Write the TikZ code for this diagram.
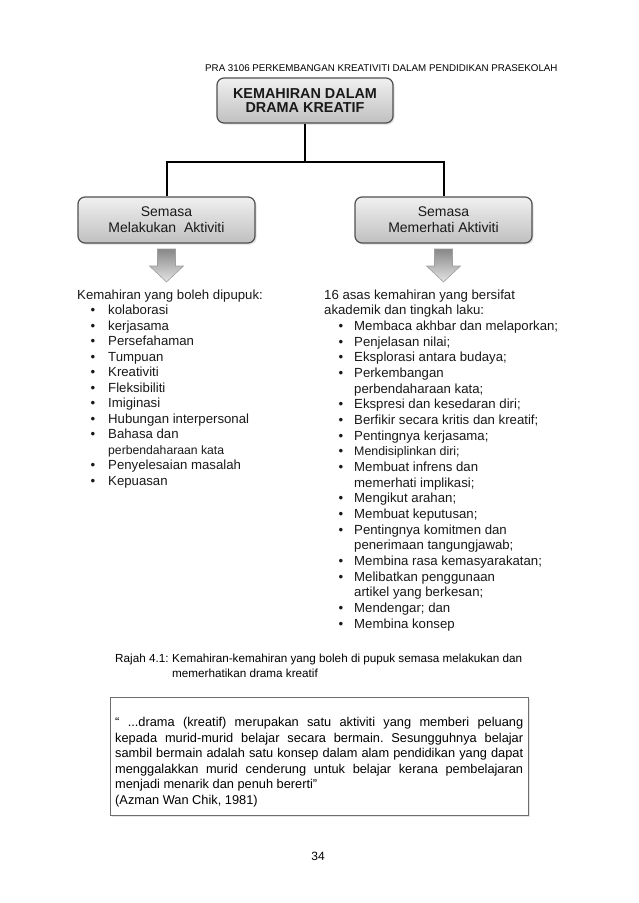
\documentclass[tikz,border=0pt]{standalone}
\usepackage{fontspec}
\setmainfont{Liberation Sans}
\usetikzlibrary{positioning,calc,shadows}
\definecolor{boxline}{RGB}{80,80,80}
\definecolor{boxtop}{RGB}{240,240,240}
\definecolor{boxbot}{RGB}{192,192,192}
\definecolor{inktext}{RGB}{25,25,25}
\definecolor{arrowtop}{RGB}{135,135,135}
\definecolor{arrowbot}{RGB}{228,228,228}
\definecolor{quoteline}{RGB}{110,110,110}
\frenchspacing

\tikzset{
  headbox/.style={draw=boxline, line width=1.2pt, rounded corners=7pt,
    top color=boxtop, bottom color=boxbot,
    drop shadow={opacity=0.25, shadow xshift=1.5pt, shadow yshift=-1.5pt},
    align=center, inner sep=0pt, text=inktext},
  tree/.style={line width=2pt, black},
  blockarrow/.style={draw=gray!75, line width=0.6pt, top color=arrowtop, bottom color=arrowbot},
  listtext/.style={anchor=base west, inner sep=0pt, text=inktext,
    font=\fontsize{13.2}{15.6}\selectfont},
  listdot/.style={anchor=base, inner sep=0pt, text=inktext, font=\fontsize{13.2}{15.6}\selectfont},
}

\begin{document}
\begin{tikzpicture}[x=1pt, y=-1pt]
    % Page
    \fill[white] (0,0) rectangle (638,903);
    \useasboundingbox (0,0) rectangle (638,903);
    \node[anchor=base west, inner sep=0pt, font=\fontsize{9.76}{11}\selectfont]
      (pagehead) at (205,71.5) {PRA 3106 PERKEMBANGAN KREATIVITI DALAM PENDIDIKAN PRASEKOLAH};
    % Tree of boxes
    \node[headbox, minimum width=176, minimum height=45,
      font=\fontsize{14.4}{14}\selectfont\bfseries]
      (title) at (305,100.5) {KEMAHIRAN DALAM\\DRAMA KREATIF};
    \node[headbox, minimum width=177, minimum height=46, font=\fontsize{14}{16}\selectfont]
      (left) at (166.5,220) {Semasa\\Melakukan\hspace{4pt} Aktiviti};
    \node[headbox, minimum width=177, minimum height=46, font=\fontsize{14}{16}\selectfont]
      (right) at (443.5,220) {Semasa\\Memerhati Aktiviti};
    \coordinate (fork) at (305,162);
    \draw[tree] (title.south) -- (fork);
    \draw[tree] (fork) -| (left.north);
    \draw[tree] (fork) -| (right.north);
    % Block arrows under the two boxes
    \foreach \cx in {166.5,443.5} {
      \draw[blockarrow] (\cx-9,249) -- (\cx+9,249) -- (\cx+9,266) -- (\cx+17,266)
        -- (\cx,282) -- (\cx-17,266) -- (\cx-9,266) -- cycle;
    }
    % Left list
    \node[listtext] (lhead) at (77,299) {Kemahiran yang boleh dipupuk:};
    \foreach \k/\txt in {1/kolaborasi, 2/kerjasama, 3/Persefahaman, 4/Tumpuan,
      5/Kreativiti, 6/Fleksibiliti, 7/Imiginasi, 8/Hubungan interpersonal, 9/Bahasa dan,
      10/{\fontsize{12.2}{14}\selectfont perbendaharaan kata}, 11/Penyelesaian masalah, 12/Kepuasan} {
      \node[listtext] (litem\k) at (108,299+15.5*\k) {\txt};
    }
    \foreach \k in {1,...,9,11,12} {
      \node[listdot] (ldot\k) at (93,299+15.5*\k) {\textbullet};
    }
    % Right list
    \node[listtext] (rhead1) at (324,299) {16 asas kemahiran yang bersifat};
    \node[listtext] (rhead2) at (324,299+15.67) {akademik dan tingkah laku:};
    \foreach \k/\txt in {2/Membaca akhbar dan melaporkan;, 3/Penjelasan nilai;,
      4/Eksplorasi antara budaya;, 5/Perkembangan, 6/perbendaharaan kata;,
      7/Ekspresi dan kesedaran diri;, 8/Berfikir secara kritis dan kreatif;,
      9/Pentingnya kerjasama;, 10/{\fontsize{12.4}{14}\selectfont Mendisiplinkan diri;},
      11/Membuat infrens dan, 12/memerhati implikasi;, 13/Mengikut arahan;,
      14/Membuat keputusan;, 15/Pentingnya komitmen dan, 16/penerimaan tangungjawab;,
      17/Membina rasa kemasyarakatan;, 18/Melibatkan penggunaan,
      19/artikel yang berkesan;, 20/Mendengar; dan, 21/Membina konsep} {
      \node[listtext] (ritem\k) at (354,299+15.67*\k) {\txt};
    }
    \foreach \k in {2,3,4,5,7,8,9,10,11,13,14,15,17,18,20,21} {
      \node[listdot] (rdot\k) at (341,299+15.67*\k) {\textbullet};
    }
    % Caption
    \node[anchor=base west, inner sep=0pt, font=\fontsize{11.7}{14}\selectfont]
      (capnum) at (115,662) {Rajah 4.1:};
    \node[anchor=base west, inner sep=0pt, font=\fontsize{11.7}{14}\selectfont]
      (capline1) at (172,662) {Kemahiran-kemahiran yang boleh di pupuk semasa melakukan dan};
    \node[anchor=base west, inner sep=0pt, font=\fontsize{11.7}{14}\selectfont]
      (capline2) at (172,677) {memerhatikan drama kreatif};
    % Quotation box
    \node[draw=quoteline, line width=1pt, fill=white, anchor=north west,
      minimum width=418, minimum height=118, inner sep=0pt,
      drop shadow={opacity=0.2, shadow xshift=1pt, shadow yshift=-1pt}]
      (quotebox) at (110,697) {};
    \node[anchor=north west, inner sep=0pt, text width=408, align=justify,
      font=\fontsize{12.8}{15.6}\selectfont]
      (quote) at (115,717) {“ ...drama (kreatif) merupakan satu aktiviti yang memberi peluang\linebreak
      kepada murid-murid belajar secara bermain. Sesungguhnya belajar\linebreak
      sambil bermain adalah satu konsep dalam alam pendidikan yang dapat\linebreak
      menggalakkan murid cenderung untuk belajar kerana pembelajaran\linebreak
      menjadi menarik dan penuh bererti”\newline
      (Azman Wan Chik, 1981)};
    % Page number
    \node[font=\fontsize{12}{14}\selectfont] (pagenum) at (318,856) {34};
\end{tikzpicture}
\end{document}
